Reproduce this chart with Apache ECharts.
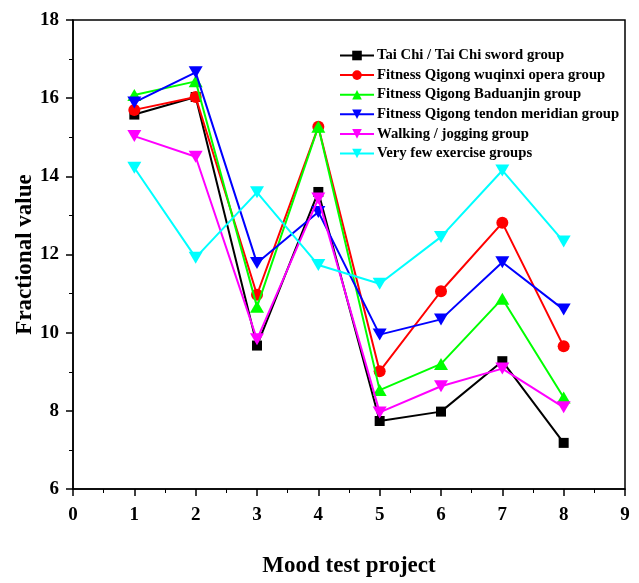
<!DOCTYPE html>
<html>
<head>
<meta charset="utf-8">
<script src="https://cdn.jsdelivr.net/npm/echarts@6/dist/echarts.min.js"></script>
<style>
html,body{margin:0;padding:0;background:#fff;}
#chart{width:639px;height:583px;}
</style>
</head>
<body>
<div id="chart"></div>
<script>
var xValues = [1, 2, 3, 4, 5, 6, 7, 8];
var seriesNames = [
  'Tai Chi / Tai Chi sword group',
  'Fitness Qigong wuqinxi opera group',
  'Fitness Qigong Baduanjin group',
  'Fitness Qigong tendon meridian group',
  'Walking / jogging group',
  'Very few exercise groups'
];
var taiChi = [15.58, 16.03, 9.67, 13.6, 7.74, 7.98, 9.27, 7.18];
var wuqinxi = [15.7, 16.03, 10.97, 15.27, 9.01, 11.06, 12.81, 9.65];
var baduanjin = [16.08, 16.43, 10.66, 15.27, 8.53, 9.2, 10.87, 8.34];
var tendon = [15.89, 16.66, 11.78, 13.09, 9.95, 10.34, 11.8, 10.59];
var walking = [15.03, 14.5, 9.83, 13.43, 7.96, 8.63, 9.08, 8.09];
var fewExercise = [14.22, 11.92, 13.59, 11.73, 11.25, 12.45, 14.15, 12.33];
var yTicks = [6, 8, 10, 12, 14, 16, 18];
var xTicks = [0, 1, 2, 3, 4, 5, 6, 7, 8, 9];

var downTri = 'path://M0,0 L10,0 L5,9 Z';
var upTri = 'path://M5,0 L10,9 L0,9 Z';
var styles = [
  {color: '#000000', symbol: 'rect', size: 10},
  {color: '#ff0000', symbol: 'circle', size: 12},
  {color: '#00ff00', symbol: upTri, size: [14, 12]},
  {color: '#0000ff', symbol: downTri, size: [14, 12]},
  {color: '#ff00ff', symbol: downTri, size: [14, 12]},
  {color: '#00ffff', symbol: downTri, size: [14, 12]}
];
var allData = [taiChi, wuqinxi, baduanjin, tendon, walking, fewExercise];

var font = '"Liberation Serif", "Times New Roman", serif';
var series = allData.map(function (vals, i) {
  return {
    name: seriesNames[i],
    type: 'line',
    data: xValues.map(function (x, j) { return [x, vals[j]]; }),
    symbol: styles[i].symbol,
    symbolSize: styles[i].size,
    lineStyle: {color: styles[i].color, width: 2},
    itemStyle: {color: styles[i].color},
    z: 2 + i
  };
});

var chart = echarts.init(document.getElementById('chart'), null, {renderer: 'canvas'});
chart.setOption({
  animation: false,
  backgroundColor: '#ffffff',
  textStyle: {fontFamily: font},
  grid: {left: 73, right: 14, top: 20, bottom: 90, show: true, borderColor: '#000', borderWidth: 1.5, backgroundColor: 'transparent'},
  legend: {
    orient: 'vertical',
    left: 334,
    top: 43,
    itemWidth: 34,
    itemHeight: 12,
    itemGap: 4.6,
    data: seriesNames,
    textStyle: {fontFamily: font, fontWeight: 'bold', fontSize: 14.7, lineHeight: 15, color: '#000', padding: [0, 0, 0, -2]}
  },
  xAxis: {
    type: 'value',
    min: 0, max: 9, interval: 1,
    name: 'Mood test project',
    nameLocation: 'middle',
    nameGap: 66,
    nameMoveOverlap: false,
    nameTextStyle: {fontFamily: font, fontWeight: 'bold', fontSize: 23, color: '#000'},
    axisLine: {show: true, lineStyle: {color: '#000', width: 1.5}},
    axisTick: {show: true, length: 7, lineStyle: {color: '#000', width: 1.5}},
    minorTick: {show: true, splitNumber: 2, length: 4, lineStyle: {color: '#000', width: 1}},
    splitLine: {show: false},
    axisLabel: {fontFamily: font, fontWeight: 'bold', fontSize: 19, color: '#000', margin: 17,
      formatter: function (v) { return xTicks.indexOf(v) >= 0 ? String(v) : ''; }}
  },
  yAxis: {
    type: 'value',
    min: 6, max: 18, interval: 2,
    name: 'Fractional value',
    nameLocation: 'middle',
    nameGap: 36,
    nameMoveOverlap: false,
    nameTextStyle: {fontFamily: font, fontWeight: 'bold', fontSize: 23, color: '#000'},
    axisLine: {show: true, lineStyle: {color: '#000', width: 1.5}},
    axisTick: {show: true, length: 7, lineStyle: {color: '#000', width: 1.5}},
    minorTick: {show: true, splitNumber: 2, length: 4, lineStyle: {color: '#000', width: 1}},
    splitLine: {show: false},
    axisLabel: {fontFamily: font, fontWeight: 'bold', fontSize: 19, color: '#000', margin: 14,
      formatter: function (v) { return yTicks.indexOf(v) >= 0 ? String(v) : ''; }}
  },
  series: series
});
</script>
</body>
</html>
